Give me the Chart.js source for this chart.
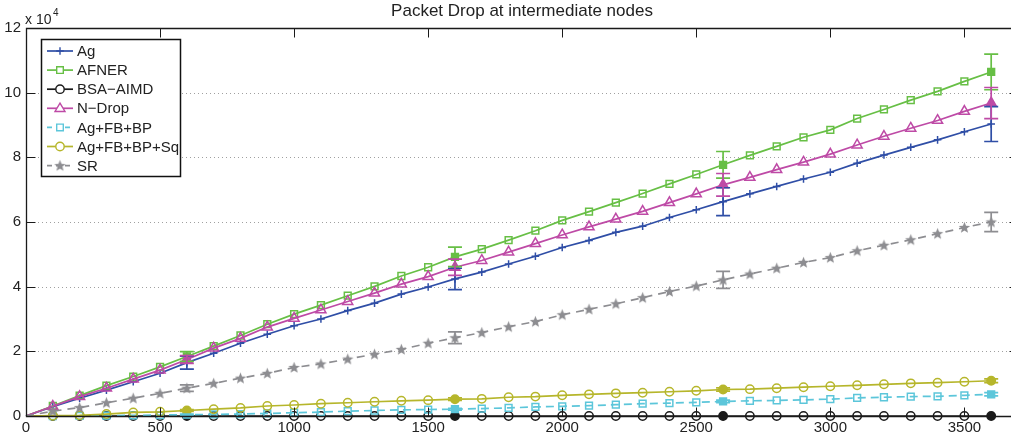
<!DOCTYPE html>
<html>
<head>
<meta charset="utf-8">
<title>Packet Drop at intermediate nodes</title>
<script src="https://cdn.jsdelivr.net/npm/chart.js@4.4.1/dist/chart.umd.min.js"></script>
<style>
  html, body { margin: 0; padding: 0; background: #fff; overflow: hidden; }
  #wrap { width: 1030px; height: 436px; }
</style>
</head>
<body>
<div id="wrap"><canvas id="chart" width="1030" height="436"></canvas></div>
<script>
// x values (simulation time), one point every 100
const xValues = [0, 100, 200, 300, 400, 500, 600, 700, 800, 900, 1000, 1100, 1200, 1300, 1400, 1500, 1600, 1700, 1800,
  1900, 2000, 2100, 2200, 2300, 2400, 2500, 2600, 2700, 2800, 2900, 3000, 3100, 3200, 3300, 3400, 3500, 3600];

// packets dropped
const agData = [0, 2900, 5500, 8000, 10600, 13200, 16500, 19400, 22500, 25300, 27900, 30000, 32600, 34900, 37700, 39900,
  42400, 44500, 47000, 49400, 52100, 54300, 56800, 58700, 61400, 63800, 66300, 68700, 71000, 73300, 75400, 78200, 80700,
  83100, 85400, 87900, 90300];
const afnerData = [0, 3100, 6300, 9400, 12200, 15200, 18400, 21600, 24900, 28400, 31500, 34300, 37200, 40100, 43300, 46000,
  49200, 51600, 54400, 57300, 60500, 63200, 66000, 68800, 71800, 74700, 77700, 80600, 83400, 86200, 88500, 92000, 94800,
  97700, 100400, 103500, 106400];
const bsaData = [0, 0, 0, 0, 0, 0, 0, 0, 0, 0, 0, 0, 0, 0, 0, 0, 0, 0, 0, 0, 0, 0, 0, 0, 0, 0, 0, 0, 0, 0, 0, 0, 0, 0, 0, 0, 0];
const ndropData = [0, 3000, 6000, 8600, 11400, 14200, 17500, 21000, 24000, 27500, 30200, 32800, 35400, 38000, 40800, 43100,
  46000, 48100, 50700, 53300, 56000, 58500, 60900, 63300, 66000, 68700, 71500, 73800, 76200, 78500, 81000, 83800, 86500,
  89000, 91400, 94200, 96800];
const fbbpData = [0, 0, 50, 100, 200, 300, 400, 500, 600, 800, 1000, 1200, 1500, 1700, 1900, 2000, 2100, 2300, 2500, 2800,
  3000, 3200, 3500, 3800, 4000, 4200, 4500, 4700, 4800, 5000, 5200, 5600, 5800, 6000, 6100, 6400, 6700];
const sqData = [0, 100, 200, 600, 1100, 1300, 1700, 2100, 2500, 3100, 3400, 3800, 4100, 4400, 4700, 4900, 5200, 5300, 5800,
  6000, 6400, 6700, 7000, 7200, 7500, 7800, 8200, 8300, 8600, 8900, 9200, 9500, 9800, 10100, 10300, 10600, 10900];
const srData = [0, 1500, 2600, 4100, 5500, 7000, 8600, 10100, 11700, 13200, 15000, 16100, 17600, 19100, 20600, 22500, 24200,
  25800, 27600, 29200, 31300, 33000, 34700, 36600, 38500, 40200, 42100, 43900, 45700, 47500, 49000, 51100, 52800, 54500,
  56400, 58300, 60000];

// error bars (half height) at these x values
const errX = [600, 1600, 2600, 3600];
const agErr = [2000, 3300, 4300, 5400];
const afnerErr = [1500, 3000, 4100, 5500];
const bsaErr = [0, 0, 0, 0];
const ndropErr = [1200, 2500, 3500, 4800];
const fbbpErr = [200, 300, 400, 500];
const sqErr = [300, 400, 500, 600];
const srErr = [1000, 1800, 2600, 3000];

const seriesNames = ["Ag", "AFNER", "BSA\u2212AIMD", "N\u2212Drop", "Ag+FB+BP", "Ag+FB+BP+Sq", "SR"];
const xTicks = [0, 500, 1000, 1500, 2000, 2500, 3000, 3500];
const yTicks = [0, 20000, 40000, 60000, 80000, 100000, 120000];

const FONT = 'Helvetica, Arial, "Liberation Sans", sans-serif';
const TEXT = '#222';

// filled star marker for SR
function makeStar(color) {
  const c = document.createElement('canvas');
  c.width = 13; c.height = 13;
  const g = c.getContext('2d');
  g.fillStyle = color;
  g.beginPath();
  for (let i = 0; i < 10; i++) {
    const r = i % 2 === 0 ? 6 : 2.6;
    const a = -Math.PI / 2 + i * Math.PI / 5;
    const px = 6.5 + r * Math.cos(a), py = 6.8 + r * Math.sin(a);
    if (i === 0) g.moveTo(px, py); else g.lineTo(px, py);
  }
  g.closePath();
  g.fill();
  return c;
}
const starImg = makeStar('#8d8d91');

const errIdx = errX.map(v => xValues.indexOf(v));

function makeSet(label, values, errs, color, style, radius, dash) {
  return {
    label: label,
    data: xValues.map((x, i) => ({ x: x, y: values[i] })),
    errs: errs,
    borderColor: color,
    backgroundColor: color,
    borderWidth: 1.7,
    borderDash: dash || [],
    pointStyle: style,
    pointRadius: ctx => ctx.dataIndex === 0 ? 0 : radius,
    pointBorderWidth: 1.5,
    pointBorderColor: color,
    // markers sitting on an error bar are filled
    pointBackgroundColor: ctx => errIdx.includes(ctx.dataIndex) ? color : 'rgba(255,255,255,0)',
    tension: 0,
    clip: false
  };
}

const datasets = [
  makeSet(seriesNames[0], agData, agErr, '#2f4ea6', 'cross', 3.8),
  makeSet(seriesNames[1], afnerData, afnerErr, '#67bf45', 'rect', 4.8),
  makeSet(seriesNames[2], bsaData, bsaErr, '#1a1a1a', 'circle', 4.2),
  makeSet(seriesNames[3], ndropData, ndropErr, '#be4aa6', 'triangle', 5.8),
  makeSet(seriesNames[4], fbbpData, fbbpErr, '#5cc6da', 'rect', 4.8, [8, 5]),
  makeSet(seriesNames[5], sqData, sqErr, '#b6b62b', 'circle', 4.2),
  makeSet(seriesNames[6], srData, srErr, '#8d8d91', starImg, 6, [8, 6])
];
// later series sit on top, as in the original figure
datasets.forEach((d, i) => { d.order = datasets.length - i; });

function legendMarker(ctx, style, x, y, color) {
  ctx.save();
  ctx.setLineDash([]);
  ctx.strokeStyle = color;
  ctx.fillStyle = '#fff';
  ctx.lineWidth = 1.4;
  ctx.beginPath();
  if (style === 'cross') {
    ctx.moveTo(x - 3.8, y); ctx.lineTo(x + 3.8, y);
    ctx.moveTo(x, y - 3.8); ctx.lineTo(x, y + 3.8);
    ctx.stroke();
  } else if (style === 'rect') {
    ctx.rect(x - 3.3, y - 3.3, 6.6, 6.6);
    ctx.fill(); ctx.stroke();
  } else if (style === 'circle') {
    ctx.arc(x, y, 4.2, 0, Math.PI * 2);
    ctx.fill(); ctx.stroke();
  } else if (style === 'triangle') {
    ctx.moveTo(x, y - 5.2); ctx.lineTo(x + 5, y + 3.2); ctx.lineTo(x - 5, y + 3.2);
    ctx.closePath();
    ctx.fill(); ctx.stroke();
  } else {
    ctx.drawImage(style, x - style.width / 2, y - style.height / 2);
  }
  ctx.restore();
}

// grid, frame, error bars, legend and the labels MATLAB puts around the axes
const decorations = {
  id: 'decorations',
  beforeDatasetsDraw(chart) {
    const { ctx, chartArea: a, scales: { y } } = chart;
    ctx.save();
    ctx.strokeStyle = '#a0a0a0';
    ctx.lineWidth = 1;
    ctx.setLineDash([1, 3]);
    yTicks.forEach(v => {
      if (v <= 0 || v >= 120000) return;
      const py = Math.round(y.getPixelForValue(v)) + 0.5;
      ctx.beginPath(); ctx.moveTo(a.left, py); ctx.lineTo(a.right, py); ctx.stroke();
    });
    ctx.restore();
  },
  afterDatasetsDraw(chart) {
    const { ctx, chartArea: a, scales: { x, y } } = chart;
    ctx.save();

    // error bars
    chart.data.datasets.forEach(ds => {
      ctx.strokeStyle = ds.borderColor;
      ctx.lineWidth = 1.7;
      errIdx.forEach((idx, k) => {
        const e = ds.errs[k];
        if (!e) return;
        const v = ds.data[idx].y;
        const px = x.getPixelForValue(ds.data[idx].x);
        const top = y.getPixelForValue(v + e), bot = y.getPixelForValue(v - e);
        ctx.beginPath();
        ctx.moveTo(px, top); ctx.lineTo(px, bot);
        ctx.moveTo(px - 7, top); ctx.lineTo(px + 7, top);
        ctx.moveTo(px - 7, bot); ctx.lineTo(px + 7, bot);
        ctx.stroke();
      });
    });

    // axes box and inward ticks
    ctx.strokeStyle = '#1a1a1a';
    ctx.lineWidth = 1.3;
    const L = Math.round(a.left) + 0.5, R = Math.round(a.right) + 0.5;
    const T = Math.round(a.top) + 0.5, B = Math.round(a.bottom) + 0.5;
    ctx.beginPath();
    ctx.moveTo(L, T); ctx.lineTo(R, T); ctx.lineTo(R, B); ctx.lineTo(L, B); ctx.closePath();
    ctx.stroke();
    ctx.lineWidth = 1;
    ctx.beginPath();
    xTicks.forEach(v => {
      const px = Math.round(x.getPixelForValue(v)) + 0.5;
      ctx.moveTo(px, B); ctx.lineTo(px, B - 9);
      ctx.moveTo(px, T); ctx.lineTo(px, T + 9);
    });
    yTicks.forEach(v => {
      const py = Math.round(y.getPixelForValue(v)) + 0.5;
      ctx.moveTo(L, py); ctx.lineTo(L + 9, py);
      ctx.moveTo(R, py); ctx.lineTo(R - 9, py);
    });
    ctx.stroke();

    // exponent label
    ctx.fillStyle = TEXT;
    ctx.textBaseline = 'alphabetic';
    ctx.textAlign = 'left';
    ctx.font = '14px ' + FONT;
    ctx.fillText('x 10', 25, 24);
    ctx.font = '10px ' + FONT;
    ctx.fillText('4', 53, 16);

    // title
    ctx.font = '17px ' + FONT;
    ctx.textAlign = 'center';
    ctx.textBaseline = 'middle';
    ctx.fillText('Packet Drop at intermediate nodes', 522, 11);

    // legend
    const lx = 41.5, ly = 39.5, lw = 139, lh = 137;
    ctx.fillStyle = '#fff';
    ctx.fillRect(lx, ly, lw, lh);
    ctx.strokeStyle = '#111';
    ctx.lineWidth = 1.5;
    ctx.strokeRect(lx, ly, lw, lh);
    ctx.font = '15px ' + FONT;
    ctx.textAlign = 'left';
    ctx.textBaseline = 'middle';
    chart.data.datasets.forEach((ds, i) => {
      const ry = 51 + i * 19.1;
      ctx.save();
      ctx.strokeStyle = ds.borderColor;
      ctx.lineWidth = 1.7;
      ctx.setLineDash(ds.borderDash.length ? [5, 4] : []);
      ctx.beginPath(); ctx.moveTo(47, ry); ctx.lineTo(73, ry); ctx.stroke();
      ctx.restore();
      legendMarker(ctx, ds.pointStyle, 60, ry, ds.borderColor);
      ctx.fillStyle = TEXT;
      ctx.fillText(ds.label, 77, ry + 1);
    });
    ctx.restore();
  }
};

new Chart(document.getElementById('chart'), {
  type: 'line',
  data: { datasets: datasets },
  options: {
    responsive: false,
    animation: false,
    devicePixelRatio: 1,
    layout: { padding: { top: 28, right: 12, left: 0, bottom: 0 } },
    plugins: { legend: { display: false }, tooltip: { enabled: false }, title: { display: false } },
    scales: {
      x: {
        type: 'linear',
        min: 0,
        max: 3700,
        afterBuildTicks: s => { s.ticks = xTicks.map(v => ({ value: v })); },
        afterFit: s => { s.height = 20; },
        ticks: { font: { size: 15, family: FONT }, color: TEXT, padding: 3, maxRotation: 0, autoSkip: false,
          callback: v => String(v) },
        grid: { display: false, drawTicks: false },
        border: { display: false }
      },
      y: {
        min: 0,
        max: 120000,
        afterBuildTicks: s => { s.ticks = yTicks.map(v => ({ value: v })); },
        afterFit: s => { s.width = 26; },
        ticks: { font: { size: 15, family: FONT }, color: TEXT, padding: 5, callback: v => String(v / 10000) },
        grid: { display: false, drawTicks: false },
        border: { display: false }
      }
    }
  },
  plugins: [decorations]
});
</script>
</body>
</html>
